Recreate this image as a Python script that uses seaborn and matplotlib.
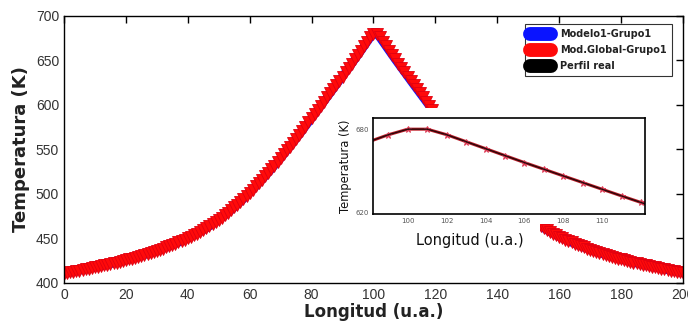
import numpy as np
import pandas as pd
import matplotlib
matplotlib.use("Agg")
import matplotlib.pyplot as plt
import seaborn as sns
from matplotlib.patches import Rectangle
from matplotlib.lines import Line2D

# ---- data ----
longitud = list(range(0, 201))

rising = [410.5, 411.2, 411.9, 412.6, 413.3, 414.0, 414.7, 415.4, 416.1, 416.8,
          417.5, 418.2, 418.9, 419.7, 420.5, 421.3, 422.1, 422.9, 423.8, 424.7,
          425.6, 426.5, 427.5, 428.5, 429.5, 430.5, 431.6, 432.7, 433.8, 434.9,
          436.1, 437.3, 438.6, 439.9, 441.2, 442.6, 444.0, 445.5, 447.0, 448.6,
          450.2, 451.9, 453.7, 455.5, 457.4, 459.4, 461.5, 463.7, 466.0, 468.4,
          470.9, 473.5, 476.2, 479.0, 481.9, 484.9, 488.0, 491.2, 494.5, 497.9,
          501.4, 505.0, 508.7, 512.4, 516.2, 520.0, 523.9, 527.9, 531.9, 536.0,
          540.2, 544.5, 548.9, 553.3, 557.7, 562.1, 566.6, 571.2, 575.8, 580.4,
          585.0, 589.7, 594.4, 599.1, 603.8, 608.5, 613.2, 617.9, 622.6, 627.3,
          632.0, 636.8, 641.6, 646.4, 651.2, 656.0, 661.0, 666.0, 671.0, 676.0,
          680.0]
falling = [680.0, 676.0, 671.0, 666.0, 661.0, 656.0, 651.2, 646.4, 641.6, 636.8,
           632.0, 627.3, 622.6, 617.9, 613.2, 608.5, 603.8, 599.1, 594.4, 589.7,
           585.0, 580.4, 575.8, 571.2, 566.6, 562.1, 557.7, 553.3, 548.9, 544.5,
           540.2, 536.0, 531.9, 527.9, 523.9, 520.0, 516.2, 512.4, 508.7, 505.0,
           501.4, 497.9, 494.5, 491.2, 488.0, 484.9, 481.9, 479.0, 476.2, 473.5,
           470.9, 468.4, 466.0, 463.7, 461.5, 459.4, 457.4, 455.5, 453.7, 451.9,
           450.2, 448.6, 447.0, 445.5, 444.0, 442.6, 441.2, 439.9, 438.6, 437.3,
           436.1, 434.9, 433.8, 432.7, 431.6, 430.5, 429.5, 428.5, 427.5, 426.5,
           425.6, 424.7, 423.8, 422.9, 422.1, 421.3, 420.5, 419.7, 418.9, 418.2,
           417.5, 416.8, 416.1, 415.4, 414.7, 414.0, 413.3, 412.6, 411.9, 411.2]

modelo1 = rising + falling
mod_global = rising + falling
perfil_real = rising + falling

series_names = ["Modelo1-Grupo1", "Mod.Global-Grupo1", "Perfil real"]
xticks_main = [0, 20, 40, 60, 80, 100, 120, 140, 160, 180, 200]
yticks_main = [400, 450, 500, 550, 600, 650, 700]
xticks_inset = [100, 102, 104, 106, 108, 110]
yticks_inset = [620, 630, 640, 650, 660, 670, 680]

df = pd.DataFrame({"x": longitud, "m1": modelo1, "mg": mod_global, "pr": perfil_real})

# ---- figure ----
sns.set_theme(style="white")
plt.rcParams['font.family'] = ['DejaVu Sans']
tick_font = ['Liberation Sans Narrow', 'Liberation Sans', 'DejaVu Sans']

fig = plt.figure(figsize=(6.88, 3.21), dpi=100)
ax = fig.add_axes([0.093, 0.1184, 0.8997, 0.8318])

sns.lineplot(data=df, x="x", y="pr", ax=ax, color="black", lw=1, label="_nolegend_")
sns.lineplot(data=df, x="x", y="m1", ax=ax, color="#0a14ff", lw=6, label="_nolegend_")
sns.lineplot(data=df, x="x", y="mg", ax=ax, color="#ff0a0a", lw=3, marker="v",
             markersize=9, markeredgecolor="#e00010", markeredgewidth=0.6,
             label="_nolegend_")

ax.set_xlim(0, 200)
ax.set_ylim(400, 700)
ax.set_xticks(xticks_main)
ax.set_yticks(yticks_main)
ax.tick_params(direction="in", length=5, width=1, top=True, right=True,
               labelsize=10, labelcolor="#333333", color="black")
for lab in ax.get_xticklabels() + ax.get_yticklabels():
    lab.set_family(tick_font)
for s in ax.spines.values():
    s.set_color("black")
    s.set_linewidth(1)
ax.set_xlabel("Longitud (u.a.)", fontsize=12, fontweight="bold", color="#222222", labelpad=1)
ax.set_ylabel("Temperatura (K)", fontsize=13, fontweight="bold", color="#222222", labelpad=4)

handles = [Line2D([0], [0], color="#0a14ff", lw=10, solid_capstyle="round"),
           Line2D([0], [0], color="#ff0a0a", lw=10, solid_capstyle="round"),
           Line2D([0], [0], color="black", lw=10, solid_capstyle="round")]
leg = ax.legend(handles, series_names,
                loc="upper right", bbox_to_anchor=(0.9825, 0.97), fontsize=7,
                frameon=True, fancybox=False, handlelength=2.2, handletextpad=0.9,
                borderpad=0.55, labelspacing=0.6, borderaxespad=0)
leg.get_frame().set_edgecolor("black")
leg.get_frame().set_linewidth(0.8)
for t in leg.get_texts():
    t.set_color("#222222")
    t.set_fontweight("bold")

# white background behind the inset and its labels
W, H = 688.0, 321.0
def fig_rect(x0, y0, x1, y1):
    return Rectangle((x0 / W, 1 - y1 / H), (x1 - x0) / W, (y1 - y0) / H,
                     transform=fig.transFigure, facecolor="white",
                     edgecolor="none", zorder=1)
fig.patches.append(fig_rect(338, 108, 650, 224))
fig.patches.append(fig_rect(400, 224, 540, 250))

# ---- inset ----
axi = fig.add_axes([0.542, 0.3333, 0.3953, 0.299], zorder=2)
sns.lineplot(data=df, x="x", y="m1", ax=axi, color="#0a14ff", lw=1.2, label="_nolegend_")
sns.lineplot(data=df, x="x", y="mg", ax=axi, color="#c0202a", lw=2.2, marker="*",
             markersize=5, markeredgecolor="#e0405a", label="_nolegend_")
sns.lineplot(data=df, x="x", y="pr", ax=axi, color="black", lw=1.0, alpha=0.8,
             label="_nolegend_")
axi.set_xlim(98.2, 112.2)
axi.set_ylim(619, 688)
axi.set_xticks(xticks_inset)
axi.set_yticks(yticks_inset)
axi.set_yticklabels(["620", "", "", "", "", "", "680"])
axi.tick_params(direction="in", length=3, width=0.8, labelsize=5, labelcolor="#555555",
                top=False, right=False, pad=3)
for s in axi.spines.values():
    s.set_color("black")
    s.set_linewidth(1.2)
axi.set_xlabel("Longitud (u.a.)", fontsize=10.5, color="#111111")
axi.xaxis.set_label_coords(0.357, -0.20)
axi.set_ylabel("Temperatura (K)", fontsize=8.3, color="#111111", labelpad=2)

fig.savefig("out.png", dpi=100)
